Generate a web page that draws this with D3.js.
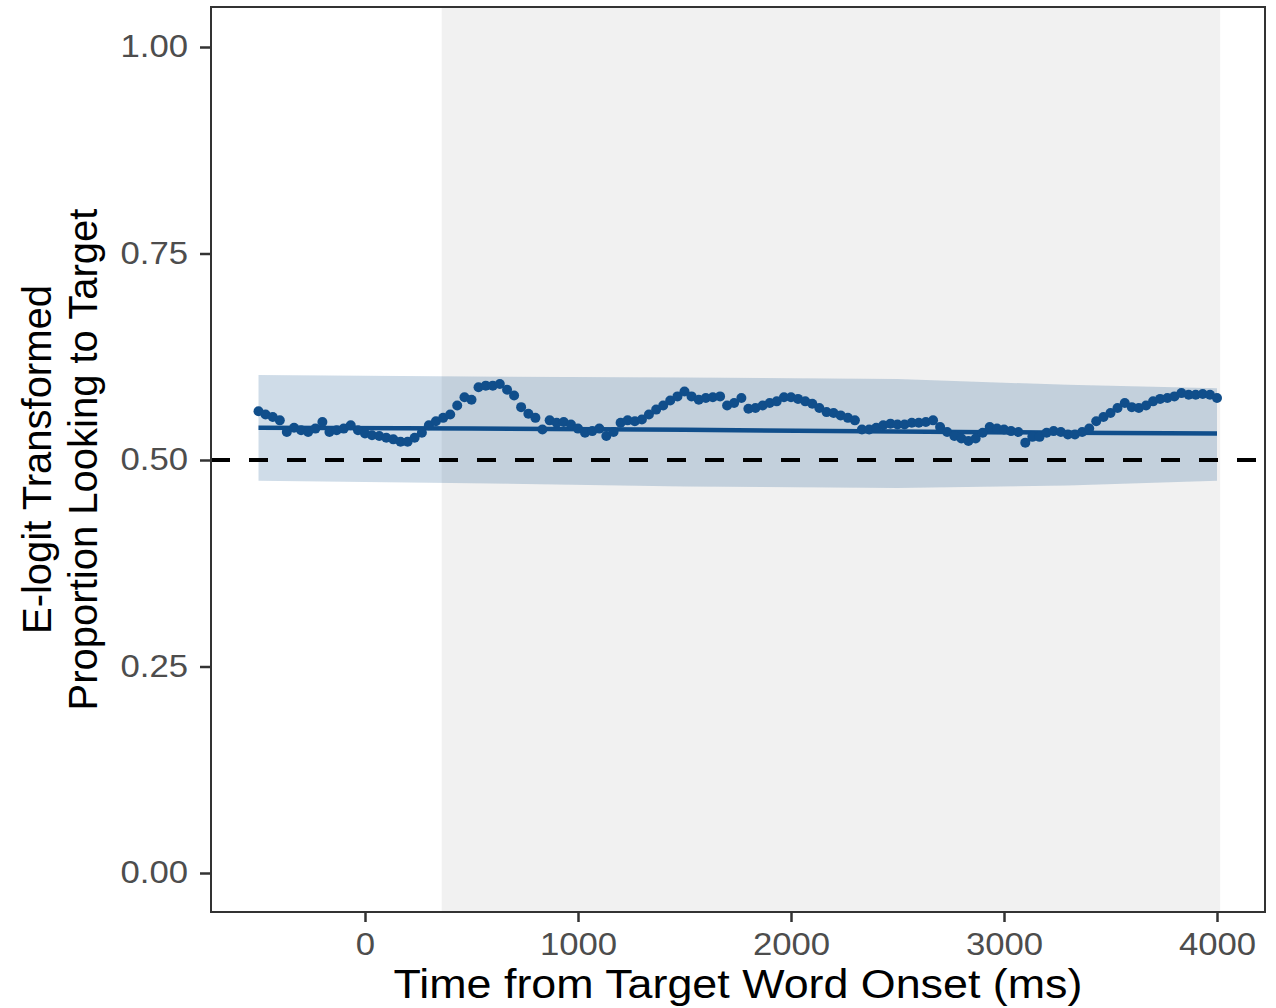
<!DOCTYPE html>
<html>
<head>
<meta charset="utf-8">
<script src="https://cdn.jsdelivr.net/npm/d3@7/dist/d3.min.js"></script>
<style>
  body { margin: 0; background: #fff; }
  text { font-family: "Liberation Sans", Arial, sans-serif; }
</style>
</head>
<body>
<div id="chart"></div>
<script>
// frame times (ms from target word onset), 30 fps coding
const times = [
  -500,-467,-433,-400,-367,-333,-300,-267,-233,-200,-167,-133,-100,-67,-33,
  0,33,67,100,133,167,200,233,267,300,333,367,400,433,467,
  500,533,567,600,633,667,700,733,767,800,833,867,900,933,967,
  1000,1033,1067,1100,1133,1167,1200,1233,1267,1300,1333,1367,1400,1433,1467,
  1500,1533,1567,1600,1633,1667,1700,1733,1767,1800,1833,1867,1900,1933,1967,
  2000,2033,2067,2100,2133,2167,2200,2233,2267,2300,2333,2367,2400,2433,2467,
  2500,2533,2567,2600,2633,2667,2700,2733,2767,2800,2833,2867,2900,2933,2967,
  3000,3033,3067,3100,3133,3167,3200,3233,3267,3300,3333,3367,3400,3433,3467,
  3500,3533,3567,3600,3633,3667,3700,3733,3767,3800,3833,3867,3900,3933,3967,
  4000
];
// e-logit transformed proportion looking to target, one per frame
const propTarget = [
  0.559,0.555,0.552,0.548,0.534,0.539,0.536,0.534,0.538,0.546,0.534,0.536,0.538,0.542,0.536,
  0.532,0.530,0.529,0.527,0.525,0.522,0.522,0.527,0.533,0.542,0.547,0.551,0.555,0.566,0.576,
  0.573,0.588,0.590,0.590,0.592,0.585,0.578,0.564,0.556,0.551,0.537,0.548,0.545,0.546,0.543,
  0.538,0.533,0.535,0.538,0.529,0.534,0.545,0.548,0.547,0.549,0.555,0.561,0.566,0.572,0.577,
  0.583,0.577,0.573,0.575,0.576,0.577,0.566,0.569,0.575,0.562,0.563,0.566,0.569,0.571,0.576,
  0.576,0.574,0.571,0.568,0.563,0.558,0.557,0.554,0.551,0.548,0.537,0.537,0.539,0.542,0.544,
  0.543,0.543,0.545,0.545,0.546,0.548,0.540,0.534,0.529,0.526,0.523,0.526,0.533,0.540,0.538,
  0.537,0.535,0.534,0.521,0.528,0.528,0.533,0.535,0.534,0.531,0.531,0.534,0.538,0.547,0.552,
  0.557,0.563,0.569,0.564,0.563,0.566,0.571,0.574,0.575,0.577,0.581,0.579,0.579,0.580,0.579,
  0.575
];

// model fit and its confidence band
const fitTimes = [-500, 500, 1500, 2500, 3300, 4000];
const fitValues = [0.539, 0.538, 0.5365, 0.5345, 0.533, 0.532];
const ciLower = [0.475, 0.472, 0.468, 0.466, 0.469, 0.475];
const ciUpper = [0.603, 0.601, 0.600, 0.598, 0.591, 0.587];

// analysis window (shaded)
const windowStart = 360, windowEnd = 4015;
const chance = 0.5;

const xTicks = [0, 1000, 2000, 3000, 4000];
const yTicks = [0, 0.25, 0.5, 0.75, 1];

const W = 1276, H = 1008;
const panel = {left: 211, right: 1265, top: 7, bottom: 912};
const blue = "#104e8b";
const stretch = 1.12; // text in the original is a bit wide

var svg = d3.select("#chart").append("svg")
    .attr("width", W)
    .attr("height", H);

var x = d3.scaleLinear()
    .domain([0, 4000])
    .range([365, 1217]);

var y = d3.scaleLinear()
    .domain([0, 1])
    .range([873, 47]);

// shaded window
svg.append("rect")
    .attr("x", x(windowStart))
    .attr("y", panel.top)
    .attr("width", x(windowEnd) - x(windowStart))
    .attr("height", panel.bottom - panel.top)
    .attr("fill", "#f1f1f1");

var fitData = fitTimes.map(function(t, i) {
    return {t: t, fit: fitValues[i], lo: ciLower[i], hi: ciUpper[i]};
});

// ribbon
svg.append("path")
    .datum(fitData)
    .attr("d", d3.area()
        .x(function(d) { return x(d.t); })
        .y0(function(d) { return y(d.lo); })
        .y1(function(d) { return y(d.hi); }))
    .attr("fill", blue)
    .attr("fill-opacity", 0.2);

// fit line
svg.append("path")
    .datum(fitData)
    .attr("d", d3.line()
        .x(function(d) { return x(d.t); })
        .y(function(d) { return y(d.fit); }))
    .attr("fill", "none")
    .attr("stroke", blue)
    .attr("stroke-width", 4.5);

// observed points
svg.append("g")
    .selectAll("circle")
    .data(times)
    .enter()
    .append("circle")
    .attr("cx", function(d) { return x(d); })
    .attr("cy", function(d, i) { return y(propTarget[i]); })
    .attr("r", 5)
    .attr("fill", blue);

// chance line
svg.append("line")
    .attr("x1", panel.left)
    .attr("x2", panel.right)
    .attr("y1", y(chance))
    .attr("y2", y(chance))
    .attr("stroke", "#000")
    .attr("stroke-width", 4)
    .attr("stroke-dasharray", "19,19");

// panel border
svg.append("rect")
    .attr("x", panel.left)
    .attr("y", panel.top)
    .attr("width", panel.right - panel.left)
    .attr("height", panel.bottom - panel.top)
    .attr("fill", "none")
    .attr("stroke", "#333")
    .attr("stroke-width", 2);

// axes
var xAxis = svg.append("g")
    .attr("transform", "translate(0," + panel.bottom + ")")
    .call(d3.axisBottom(x).tickValues(xTicks).tickFormat(d3.format("d")).tickSize(10).tickPadding(11));

var yAxis = svg.append("g")
    .attr("transform", "translate(" + panel.left + ",0)")
    .call(d3.axisLeft(y).tickValues(yTicks).tickFormat(d3.format(".2f")).tickSize(11).tickPadding(12));

function widen(sel) {
    sel.attr("textLength", function() { return this.getComputedTextLength() * stretch; })
        .attr("lengthAdjust", "spacingAndGlyphs");
}

[xAxis, yAxis].forEach(function(a) {
    a.select(".domain").remove();
    a.selectAll(".tick line").attr("stroke", "#333").attr("stroke-width", 2.5);
    a.selectAll(".tick text")
        .attr("fill", "#4d4d4d")
        .style("font-size", "31px")
        .call(widen);
});

// titles
svg.append("text")
    .attr("x", (panel.left + panel.right) / 2)
    .attr("y", 998)
    .attr("text-anchor", "middle")
    .style("font-size", "40px")
    .attr("fill", "#000")
    .text("Time from Target Word Onset (ms)")
    .call(widen);

var cy = (panel.top + panel.bottom) / 2;
svg.append("text")
    .attr("transform", "translate(51," + cy + ") rotate(-90)")
    .attr("text-anchor", "middle")
    .style("font-size", "40px")
    .text("E-logit Transformed");
svg.append("text")
    .attr("transform", "translate(97," + cy + ") rotate(-90)")
    .attr("text-anchor", "middle")
    .style("font-size", "40px")
    .text("Proportion Looking to Target");
</script>
</body>
</html>
